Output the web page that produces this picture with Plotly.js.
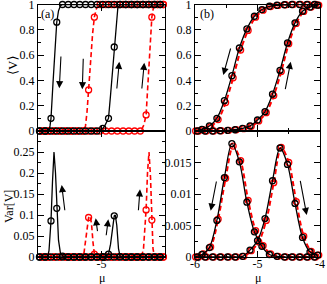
<!DOCTYPE html>
<html><head><meta charset="utf-8">
<script src="https://cdn.plot.ly/plotly-3.0.1.min.js"></script>
<style>html,body{margin:0;padding:0;background:#fff}#chart{width:327px;height:284px}</style>
</head><body><div id="chart"></div>
<script>
// ---------- panel (a) : sampled points ----------
const muBlackA = [-5.124,-5.1125,-5.101,-5.0895,-5.078,-5.0665,-5.055,-5.0435,-5.032,-5.0205,-5.009,-4.9975,-4.986,-4.9745,-4.963,-4.9515,-4.94,-4.9285,-4.917,-4.9055,-4.894,-4.8825];
const muRedA = [-5.1178,-5.1063,-5.0948,-5.0833,-5.0718,-5.0603,-5.0488,-5.0373,-5.0258,-5.0143,-5.0028,-4.9913,-4.9798,-4.9683,-4.9568,-4.9453,-4.9338,-4.9223,-4.9108,-4.8993,-4.8878,-4.8763];
const vBlackDownA = [0,0,0.1,0.86,1,1,1,1,1,1,1,1,1,1,1,1,1,1,1,1,1,1];
const vBlackUpA   = [0,0,0,0,0,0,0,0,0,0,0,0.02,0.1,0.664,1,1,1,1,1,1,1,1];
const vRedDownA   = [0,0,0,0,0,0,0,0,0.325,0.9,1,1,1,1,1,1,1,1,1,1,1,1];
const vRedUpA     = [0,0,0,0,0,0,0,0,0,0,0,0,0,0,0,0,0,0,0.127,0.9,1,1];
const varBlackDownA = [0,0,0.086,0.116,0.002,0,0,0,0,0,0,0,0,0,0,0,0,0,0,0,0,0];
const varBlackUpA   = [0,0,0,0,0,0,0,0,0,0,0,0.001,0.007,0.098,0.001,0,0,0,0,0,0,0];
const varRedDownA   = [0,0,0,0,0,0,0,0,0.094,0.007,0,0,0,0,0,0,0,0,0,0,0,0];
const varRedUpA     = [0,0,0,0,0,0,0,0,0,0,0,0,0,0,0,0,0,0,0.112,0.088,0,0];
// ---------- panel (a) : fine curves ----------
const lBDx = [-5.127,-5.105,-5.103,-5.101,-5.097,-5.093,-5.0895,-5.086,-5.082,-5.078,-4.873];
const lBDy = [0,0,0.04,0.1,0.38,0.66,0.86,0.95,0.99,1,1];
const lBUx = [-5.127,-5.005,-5.001,-4.9975,-4.993,-4.986,-4.982,-4.978,-4.9745,-4.971,-4.9674,-4.963,-4.873];
const lBUy = [0,0,0.01,0.02,0.045,0.1,0.28,0.48,0.664,0.86,0.97,1,1];
const lRDx = [-5.127,-5.036,-5.032,-5.029,-5.0258,-5.022,-5.018,-5.0143,-5.01,-5.006,-5.0028,-4.873];
const lRDy = [0,0,0.04,0.15,0.325,0.55,0.76,0.9,0.97,0.995,1,1];
const lRUx = [-5.127,-4.925,-4.92,-4.915,-4.9108,-4.907,-4.903,-4.8993,-4.896,-4.893,-4.873];
const lRUy = [0,0,0.01,0.05,0.127,0.38,0.68,0.9,0.98,1,1];
const vlBDx = [-5.127,-5.108,-5.105,-5.101,-5.098,-5.095,-5.092,-5.0895,-5.086,-5.082,-5.078,-5.075,-4.873];
const vlBDy = [0,0,0.015,0.086,0.18,0.25,0.2,0.116,0.04,0.008,0.002,0,0];
const vlBUx = [-5.127,-4.995,-4.991,-4.986,-4.982,-4.978,-4.9745,-4.9724,-4.9694,-4.966,-4.963,-4.96,-4.873];
const vlBUy = [0,0,0.002,0.007,0.03,0.07,0.098,0.1,0.075,0.02,0.002,0,0];
const vlRDx = [-5.127,-5.039,-5.035,-5.031,-5.0258,-5.023,-5.02,-5.017,-5.0143,-5.01,-4.873];
const vlRDy = [0,0,0.01,0.045,0.094,0.098,0.08,0.035,0.007,0,0];
const vlRUx = [-5.127,-4.92,-4.916,-4.9108,-4.908,-4.905,-4.902,-4.8993,-4.897,-4.894,-4.873];
const vlRUy = [0,0,0.02,0.112,0.2,0.25,0.19,0.088,0.02,0,0];
// ---------- panel (b) ----------
const muBlackDownB = [-6.01,-5.89,-5.77,-5.65,-5.53,-5.41,-5.29,-5.17,-5.05,-4.93,-4.81,-4.69,-4.57,-4.45,-4.33,-4.21,-4.09];
const vBlackDownB  = [0,0.013,0.04,0.10,0.24,0.437,0.656,0.807,0.907,0.96,0.986,0.994,0.998,1,1,1,1];
const varBlackDownB = [0,0.0004,0.0015,0.0058,0.0126,0.018,0.0151,0.0087,0.004,0.0017,0.0004,0.0001,0,0,0,0,0];
const muBlackUpB = [-5.96,-5.84,-5.72,-5.6,-5.48,-5.36,-5.24,-5.12,-5.0,-4.88,-4.76,-4.64,-4.52,-4.4,-4.28,-4.16,-4.04];
const vBlackUpB  = [0,0,0,0.002,0.005,0.01,0.02,0.04,0.087,0.153,0.291,0.479,0.696,0.855,0.947,0.98,0.995];
const varBlackUpB = [0,0,0,0,0,0,0.0001,0.0011,0.0026,0.0061,0.0121,0.0173,0.0147,0.0085,0.0031,0.0008,0.0003];
const muRedDownB = [-5.99,-5.87,-5.75,-5.63,-5.51,-5.39,-5.27,-5.15,-5.03,-4.91,-4.79,-4.67,-4.55,-4.43,-4.31,-4.19,-4.07];
const vRedDownB  = [0,0.01,0.035,0.09,0.225,0.42,0.64,0.795,0.9,0.955,0.984,0.993,0.998,1,1,1,1];
const varRedDownB = [0,0.0005,0.0016,0.006,0.0125,0.0176,0.0153,0.009,0.0042,0.0018,0.0005,0.0001,0,0,0,0,0];
const muRedUpB = [-5.94,-5.82,-5.7,-5.58,-5.46,-5.34,-5.22,-5.1,-4.98,-4.86,-4.74,-4.62,-4.5,-4.38,-4.26,-4.14,-4.02];
const vRedUpB  = [0,0,0,0.002,0.005,0.01,0.018,0.037,0.08,0.145,0.28,0.47,0.69,0.85,0.945,0.98,0.995];
const varRedUpB = [0,0,0,0,0,0,0.0001,0.001,0.0024,0.0058,0.0118,0.0174,0.015,0.0088,0.0033,0.0009,0.0003];
// ---------- tick labels ----------
const yTicksV = [0,0.2,0.4,0.6,0.8,1];
const yTicksVarA = [0,0.05,0.1,0.15,0.2,0.25];
const yTicksVarB = [0,0.005,0.01,0.015];
const xTicksA = [-5], xTextA = ['-5'];
const xTicksB = [-6,-5,-4], xTextB = ['-6','-5','-4'];

const W=327,H=284;
const PX=x=>x/W, PY=y=>1-y/H;
const RED='#ff0000', BLK='#000000';
const traces=[];
function addLine(x,y,xa,ya,color,dash,width,shape){
  traces.push({x:x,y:y,xaxis:xa,yaxis:ya,mode:'lines',line:{color:color,dash:dash,width:width,shape:shape||'linear',smoothing:0.9},hoverinfo:'skip',showlegend:false});
}
function addPts(x,y,xa,ya,color){
  traces.push({x:x,y:y,xaxis:xa,yaxis:ya,mode:'markers',cliponaxis:false,marker:{symbol:'circle-open',size:6,color:color,line:{width:1.3,color:color}},hoverinfo:'skip',showlegend:false});
}
const DASH='5px,3px';
// panel (a) top
addLine(lRDx,lRDy,'x','y',RED,DASH,1.6); addLine(lRUx,lRUy,'x','y',RED,DASH,1.6);
addPts(muRedA,vRedDownA,'x','y',RED); addPts(muRedA,vRedUpA,'x','y',RED);
addLine(lBDx,lBDy,'x','y',BLK,'solid',1.3); addLine(lBUx,lBUy,'x','y',BLK,'solid',1.3);
addPts(muBlackA,vBlackDownA,'x','y',BLK); addPts(muBlackA,vBlackUpA,'x','y',BLK);
// panel (a) bottom
addLine(vlRDx,vlRDy,'x2','y2',RED,DASH,1.6); addLine(vlRUx,vlRUy,'x2','y2',RED,DASH,1.6);
addPts(muRedA,varRedDownA,'x2','y2',RED); addPts(muRedA,varRedUpA,'x2','y2',RED);
addLine(vlBDx,vlBDy,'x2','y2',BLK,'solid',1.3); addLine(vlBUx,vlBUy,'x2','y2',BLK,'solid',1.3);
addPts(muBlackA,varBlackDownA,'x2','y2',BLK); addPts(muBlackA,varBlackUpA,'x2','y2',BLK);
// panel (b) top
addLine(muRedDownB,vRedDownB,'x3','y3',RED,DASH,2,'spline'); addLine(muRedUpB,vRedUpB,'x3','y3',RED,DASH,2,'spline');
addPts(muRedDownB,vRedDownB,'x3','y3',RED); addPts(muRedUpB,vRedUpB,'x3','y3',RED);
addLine(muBlackDownB,vBlackDownB,'x3','y3',BLK,'solid',1.3,'spline'); addLine(muBlackUpB,vBlackUpB,'x3','y3',BLK,'solid',1.3,'spline');
addPts(muBlackDownB,vBlackDownB,'x3','y3',BLK); addPts(muBlackUpB,vBlackUpB,'x3','y3',BLK);
// panel (b) bottom
addLine(muRedDownB,varRedDownB,'x4','y4',RED,DASH,2,'spline'); addLine(muRedUpB,varRedUpB,'x4','y4',RED,DASH,2,'spline');
addPts(muRedDownB,varRedDownB,'x4','y4',RED); addPts(muRedUpB,varRedUpB,'x4','y4',RED);
addLine(muBlackDownB,varBlackDownB,'x4','y4',BLK,'solid',1.3,'spline'); addLine(muBlackUpB,varBlackUpB,'x4','y4',BLK,'solid',1.3,'spline');
addPts(muBlackDownB,varBlackDownB,'x4','y4',BLK); addPts(muBlackUpB,varBlackUpB,'x4','y4',BLK);

const FONT={family:'"Liberation Serif", "DejaVu Serif", serif',size:12,color:'#000'};
function axis(domain,anchor,range,o){
  return Object.assign({domain:domain,anchor:anchor,range:range,showline:true,linecolor:'#000',linewidth:1,mirror:'allticks',
    ticks:'inside',ticklen:6,tickwidth:1,tickcolor:'#000',showgrid:false,zeroline:false,tickfont:FONT,fixedrange:true,
    ticklabeloverflow:'allow'},o);
}
const xa=[38/W,165/W], xb=[195/W,320/W];
const yt=[PY(131),PY(4.5)], yb=[PY(257),PY(131)];
const minor=(d,t0)=>({tickmode:'linear',dtick:d,tick0:t0,ticks:'inside',ticklen:3,tickcolor:'#000',tickwidth:1,showgrid:false});
const layout={
  width:W,height:H,margin:{l:0,r:0,t:0,b:0},paper_bgcolor:'#fff',plot_bgcolor:'#fff',showlegend:false,font:FONT,
  xaxis: axis(xa,'y',[-5.127,-4.873],{tickmode:'array',tickvals:xTicksA,ticktext:xTextA,showticklabels:false}),
  yaxis: axis(yt,'x',[0,1],{tickmode:'array',tickvals:yTicksV,minor:minor(0.1,0)}),
  xaxis2: axis(xa,'y2',[-5.127,-4.873],{tickmode:'array',tickvals:xTicksA,ticktext:xTextA,ticklabelstandoff:-4}),
  yaxis2: axis(yb,'x2',[0,0.3],{tickmode:'array',tickvals:yTicksVarA,minor:minor(0.025,0)}),
  xaxis3: axis(xb,'y3',[-6,-4],{tickmode:'array',tickvals:xTicksB,ticktext:xTextB,showticklabels:false,minor:minor(0.5,-6)}),
  yaxis3: axis(yt,'x3',[0,1],{tickmode:'array',tickvals:yTicksV,minor:minor(0.1,0)}),
  xaxis4: axis(xb,'y4',[-6,-4],{tickmode:'array',tickvals:xTicksB,ticktext:xTextB,minor:minor(0.5,-6),ticklabelstandoff:-4}),
  yaxis4: axis(yb,'x4',[0,0.02],{tickmode:'array',tickvals:yTicksVarB,minor:minor(0.0025,0)}),
  annotations:[]
};
function txt(t,x,y,ang,size){layout.annotations.push({text:t,xref:'paper',yref:'paper',x:PX(x),y:PY(y),xanchor:'center',yanchor:'middle',showarrow:false,textangle:ang||0,font:Object.assign({},FONT,{size:size||12})});}
txt('⟨V⟩',12,65,-90,13);
txt('Var[V]',9,207,-90,12);
txt('μ',101.5,277.5,0,12);
txt('μ',257.5,277.5,0,12);
txt('(a)',47.5,14,0,12);
txt('(b)',206.5,14,0,12);
const arrows=[
  [59.3,88.3,61,55],[82.3,89.3,83.3,57.3],[119.3,61.7,116.7,90],[144.3,62.7,141.7,90],
  [61.7,185,65,211.7],[95.7,218.3,97.7,232.7],[108.3,219.3,106,236.7],[140,189.3,138.3,211.7],
  [223.3,75,231,47],[290.7,61.7,285,90.7],
  [210.7,210.7,216.7,180],[306.7,215,300,179.3]
];
arrows.forEach(a=>layout.annotations.push({text:'',xref:'paper',yref:'paper',x:PX(a[0]),y:PY(a[1]),ax:a[2]-a[0],ay:a[3]-a[1],showarrow:true,arrowhead:2,arrowsize:1.3,arrowwidth:1.1,arrowcolor:'#000',standoff:0,startstandoff:0}));
Plotly.newPlot('chart',traces,layout,{staticPlot:true,displayModeBar:false});
</script></body></html>
